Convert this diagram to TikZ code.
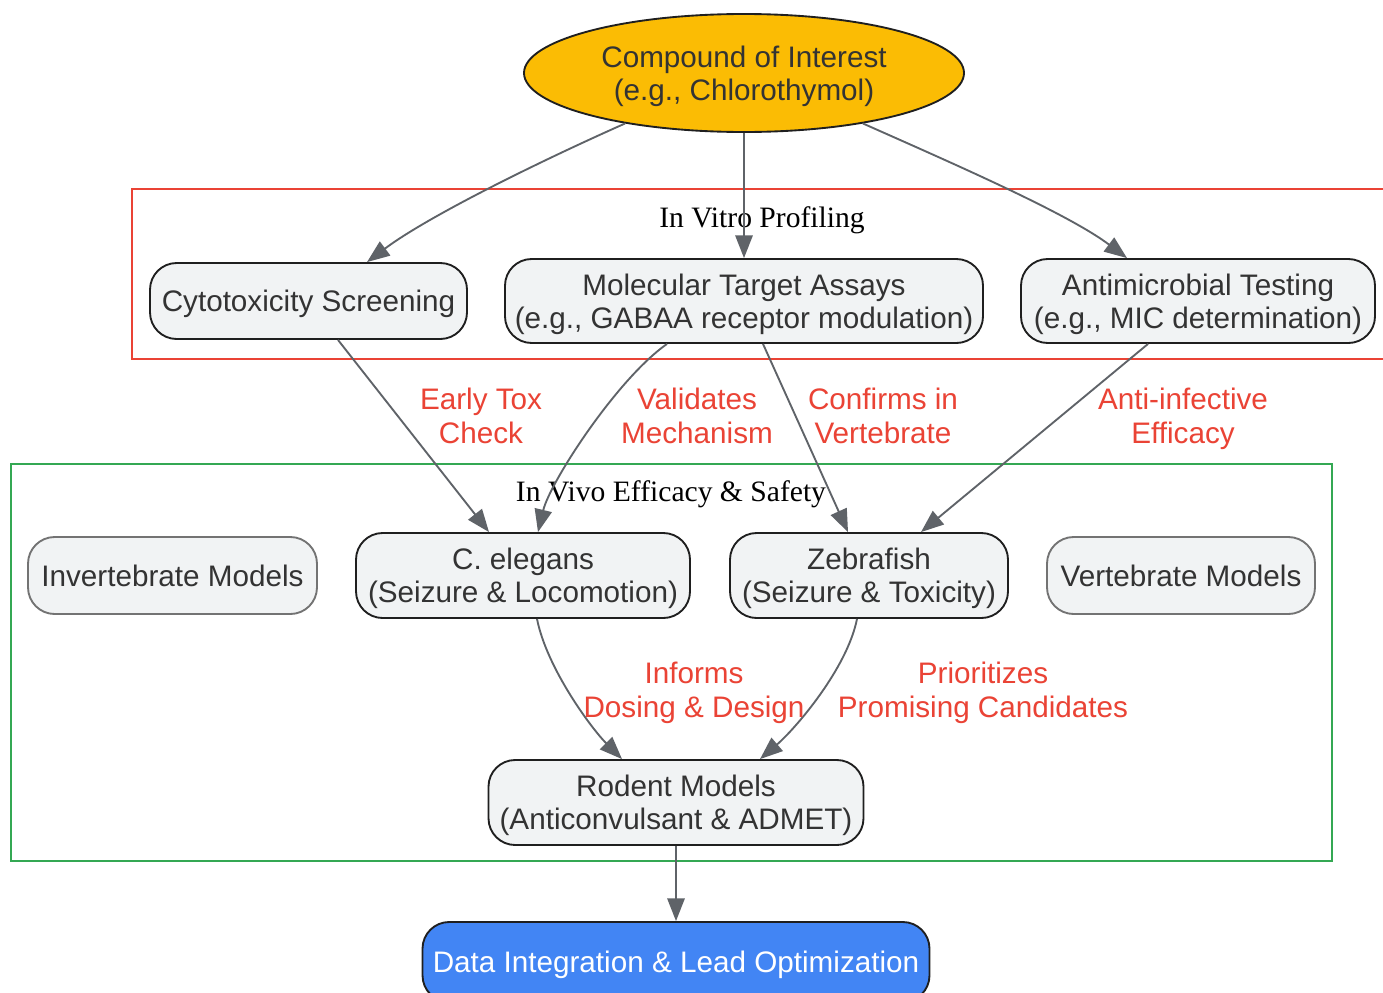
\documentclass[tikz,border=0pt]{standalone}
\usepackage{fontspec}
\setmainfont{Liberation Sans}
\newfontfamily\clfont{Liberation Serif}
\usetikzlibrary{shapes.geometric,arrows.meta,calc}
\definecolor{edgegray}{HTML}{5F6368}
\definecolor{nodefill}{HTML}{F1F3F4}
\definecolor{ylw}{HTML}{FBBC04}
\definecolor{gblue}{HTML}{4285F4}
\definecolor{gred}{HTML}{EA4335}
\definecolor{ggreen}{HTML}{34A853}
\definecolor{txt}{HTML}{333333}
\begin{document}
\begin{tikzpicture}[x=0.75pt,y=-0.75pt,
  box/.style={draw=black!88, line width=1.4pt, fill=nodefill, rounded corners=20pt,
    align=center, text=txt, font=\fontsize{22.25}{24.75}\selectfont, inner sep=0pt, text depth=-1.3pt},
  softbox/.style={box, draw=black!55},
  cluster/.style={line width=1.2pt},
  cltext/.style={font=\clfont\fontsize{22.2}{24.75}\selectfont, text=black, inner sep=0pt, text depth=0pt},
  elabel/.style={font=\fontsize{22.25}{25.5}\selectfont, text=gred, align=center, inner sep=0pt, text depth=-1pt},
  conn/.style={draw=edgegray, line width=1.4pt, -{Triangle[length=17pt,width=13pt]}}
]
\useasboundingbox (0,0) rectangle (1383,992);
\fill[white] (0,0) rectangle (1383,992);

% clusters
\draw[cluster, draw=gred] (132,189) rectangle (1400,359);
\draw[cluster, draw=ggreen] (11,464) rectangle (1332,861);
\node[cltext] (vitrolbl) at (762,217) {In Vitro Profiling};
\node[cltext] (vivolbl) at (671,491) {In Vivo Efficacy \& Safety};

% nodes
\node[ellipse, draw=black!88, line width=1.4pt, fill=ylw, text=txt, align=center,
  minimum width=330pt, minimum height=88.5pt, inner sep=0pt, text depth=-2.5pt,
  font=\fontsize{22.25}{24.75}\selectfont] (top) at (744,73)
  {Compound of Interest\\(e.g., Chlorothymol)};
\node[box, minimum width=237.75pt, minimum height=57pt] (cyto) at (308.5,301) {Cytotoxicity Screening};
\node[box, minimum width=358.5pt, minimum height=63pt] (mol) at (744,301) {Molecular Target Assays\\(e.g., GABAA receptor modulation)};
\node[box, minimum width=265.5pt, minimum height=63pt] (anti) at (1198,301) {Antimicrobial Testing\\(e.g., MIC determination)};
\node[softbox, minimum width=216.75pt, minimum height=57.75pt] (invert) at (172.5,575.5) {Invertebrate Models};
\node[box, minimum width=250.5pt, minimum height=63.75pt] (cel) at (523,575.5) {C. elegans\\(Seizure \& Locomotion)};
\node[box, minimum width=208.5pt, minimum height=63.75pt] (zeb) at (869,575.5) {Zebrafish\\(Seizure \& Toxicity)};
\node[softbox, minimum width=201pt, minimum height=57.75pt] (vert) at (1181,575.5) {Vertebrate Models};
\node[box, minimum width=281.25pt, minimum height=63.75pt] (rod) at (676,802.5) {Rodent Models\\(Anticonvulsant \& ADMET)};
\node[box, fill=gblue, text=white, minimum width=380.25pt, minimum height=60pt] (data) at (676,962) {Data Integration \& Lead Optimization};

% edges
\draw[conn] (top.203) .. controls +(-90,40) and +(60,-45) .. ($(cyto.north)+(58.5,0)$);
\draw[conn] (top.south) -- (mol.north);
\draw[conn] (top.-23.5) .. controls +(90,40) and +(-60,-45) .. ($(anti.north)+(-71,0)$);
\draw[conn] ($(cyto.south)+(29.5,0)$) -- ($(cel.north)+(-34,0)$);
\draw[conn] ($(mol.south)+(-77,0)$) .. controls +(-50,35) and +(12,-50) .. ($(cel.north)+(15,0)$);
\draw[conn] ($(mol.south)+(19,0)$) -- ($(zeb.north)+(-21,0)$);
\draw[conn] ($(anti.south)+(-50,0)$) -- ($(zeb.north)+(52,0)$);
\draw[conn] ($(cel.south)+(14,0)$) .. controls +(10,50) and +(-30,-30) .. ($(rod.north)+(-54,0)$);
\draw[conn] ($(zeb.south)+(-12,0)$) .. controls +(-10,50) and +(35,-30) .. ($(rod.north)+(84,0)$);
\draw[conn] (rod.south) -- (data.north);

% edge labels
\node[elabel] (l1) at (481,416) {Early Tox\\Check};
\node[elabel] (l2) at (697,416) {Validates\\Mechanism};
\node[elabel] (l3) at (883,416) {Confirms in\\Vertebrate};
\node[elabel] (l4) at (1183,416) {Anti-infective\\Efficacy};
\node[elabel] (l5) at (694,690) {Informs\\Dosing \& Design};
\node[elabel] (l6) at (983,690) {Prioritizes\\Promising Candidates};
\end{tikzpicture}
\end{document}
